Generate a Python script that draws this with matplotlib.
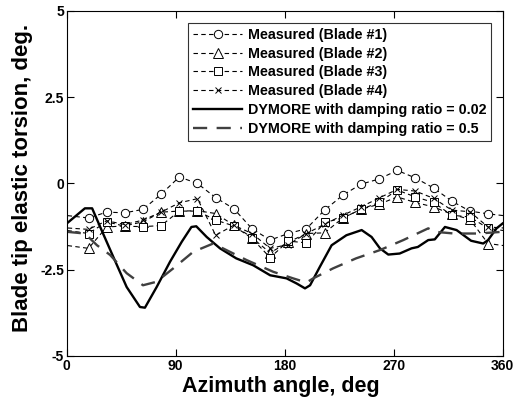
import matplotlib
matplotlib.use('Agg')
import matplotlib.pyplot as plt
import numpy as np

plt.rcParams['font.family'] = ['Liberation Sans', 'DejaVu Sans']
plt.rcParams['font.weight'] = 'bold'

# measured blade tip torsion, every 15 deg
azim = [18, 33, 48, 63, 78, 93, 108, 123, 138, 153, 168, 183, 198, 213, 228, 243, 258, 273, 288, 303, 318, 333, 348]
blade1 = [-1.00, -0.83, -0.85, -0.75, -0.31, 0.19, 0.00, -0.41, -0.73, -1.31, -1.64, -1.45, -1.31, -0.77, -0.34, -0.02, 0.13, 0.38, 0.16, -0.13, -0.51, -0.80, -0.88]
blade2 = [-1.88, -1.26, -1.23, -1.11, -0.83, -0.80, -0.79, -0.87, -1.21, -1.57, -2.01, -1.70, -1.45, -1.43, -1.00, -0.75, -0.60, -0.39, -0.55, -0.68, -0.89, -1.04, -1.74]
blade3 = [-1.45, -1.11, -1.24, -1.25, -1.22, -0.80, -0.80, -1.06, -1.23, -1.59, -2.15, -1.67, -1.72, -1.13, -1.00, -0.75, -0.55, -0.19, -0.39, -0.55, -0.92, -0.97, -1.30]
blade4 = [-1.33, -1.08, -1.19, -1.06, -0.83, -0.56, -0.44, -1.50, -1.21, -1.45, -1.88, -1.77, -1.45, -1.18, -0.92, -0.68, -0.42, -0.17, -0.22, -0.43, -0.77, -0.82, -1.26]

# DYMORE predictions
d02_azim = [0, 15, 21, 30, 38.5, 49.5, 60.5, 64.6, 74.3, 85.3, 95, 103, 107, 115.6, 126.6, 140, 154, 168, 181.6, 190, 196.8, 201, 209, 218.8, 231, 243.6, 251.8, 258.7, 265.6, 275, 284.8, 290, 298.6, 304, 312.4, 322, 334, 344, 348, 355, 360]
d02_tors = [-1.16, -0.72, -0.72, -1.45, -2.13, -3.00, -3.58, -3.60, -3.00, -2.27, -1.69, -1.26, -1.24, -1.55, -1.88, -2.17, -2.37, -2.66, -2.75, -2.90, -3.04, -2.95, -2.42, -1.79, -1.50, -1.35, -1.55, -1.88, -2.06, -2.03, -1.88, -1.84, -1.64, -1.62, -1.26, -1.35, -1.66, -1.74, -1.64, -1.30, -1.16]
d05_azim = [0, 15, 25, 35.8, 49.5, 63, 74, 88, 104.5, 121, 129, 148.6, 170.6, 187, 198, 203.6, 220, 239, 258.7, 278, 298.6, 304, 320, 340, 360]
d05_tors = [-1.40, -1.45, -1.79, -2.07, -2.60, -2.95, -2.85, -2.46, -1.98, -1.74, -1.88, -2.22, -2.56, -2.75, -2.87, -2.75, -2.46, -2.17, -1.93, -1.64, -1.30, -1.40, -1.45, -1.45, -1.40]

fig = plt.figure(figsize=(5.16, 3.97), dpi=100)
ax = fig.add_axes([0.1293, 0.1033, 0.8447, 0.869])

def periodic(y):
    # wrap last/first point so the dashed line runs to both edges
    x = np.r_[azim[-1] - 360, azim, azim[0] + 360]
    return x, np.r_[y[-1], y, y[0]]

meas_style = dict(color='black', lw=0.8, dashes=(4, 3), mfc='white', mec='black', mew=0.7)
ax.plot(*periodic(blade1), marker='o', ms=6, label='Measured (Blade #1)', **meas_style)
ax.plot(*periodic(blade2), marker='^', ms=6.5, label='Measured (Blade #2)', **meas_style)
ax.plot(*periodic(blade3), marker='s', ms=6, label='Measured (Blade #3)', **meas_style)
ax.plot(*periodic(blade4), marker='x', ms=4, label='Measured (Blade #4)', **meas_style)
ax.plot(d02_azim, d02_tors, color='black', lw=1.7, label='DYMORE with damping ratio = 0.02')
ax.plot(d05_azim, d05_tors, color='#404040', lw=1.7, dashes=(6, 4), label='DYMORE with damping ratio = 0.5')

ax.set_xlim(0, 360)
ax.set_ylim(-5, 5)
ax.set_xticks([0, 90, 180, 270, 360])
ax.set_yticks([-5, -2.5, 0, 2.5, 5])
ax.set_yticklabels(['-5', '-2.5', '0', '2.5', '5'])
ax.tick_params(direction='in', top=True, right=True, length=5, width=0.8, labelsize=10, pad=2)
for s in ax.spines.values():
    s.set_linewidth(0.8)

ax.set_xlabel('Azimuth angle, deg', fontsize=15.5, fontweight='bold', va='baseline')
ax.xaxis.set_label_coords(0.491, -0.103)
ax.set_ylabel('Blade tip elastic torsion, deg.', fontsize=16, fontweight='bold', va='baseline')
ax.yaxis.set_label_coords(-0.088, 0.516)

leg = ax.legend(loc='upper right', bbox_to_anchor=(0.974, 0.966), fontsize=10.3, handlelength=3.4,
                frameon=True, fancybox=False, edgecolor='black', borderpad=0.35,
                labelspacing=0.34, handletextpad=0.4, borderaxespad=0)
leg.get_frame().set_linewidth(0.8)

fig.savefig('out.png', dpi=100)
